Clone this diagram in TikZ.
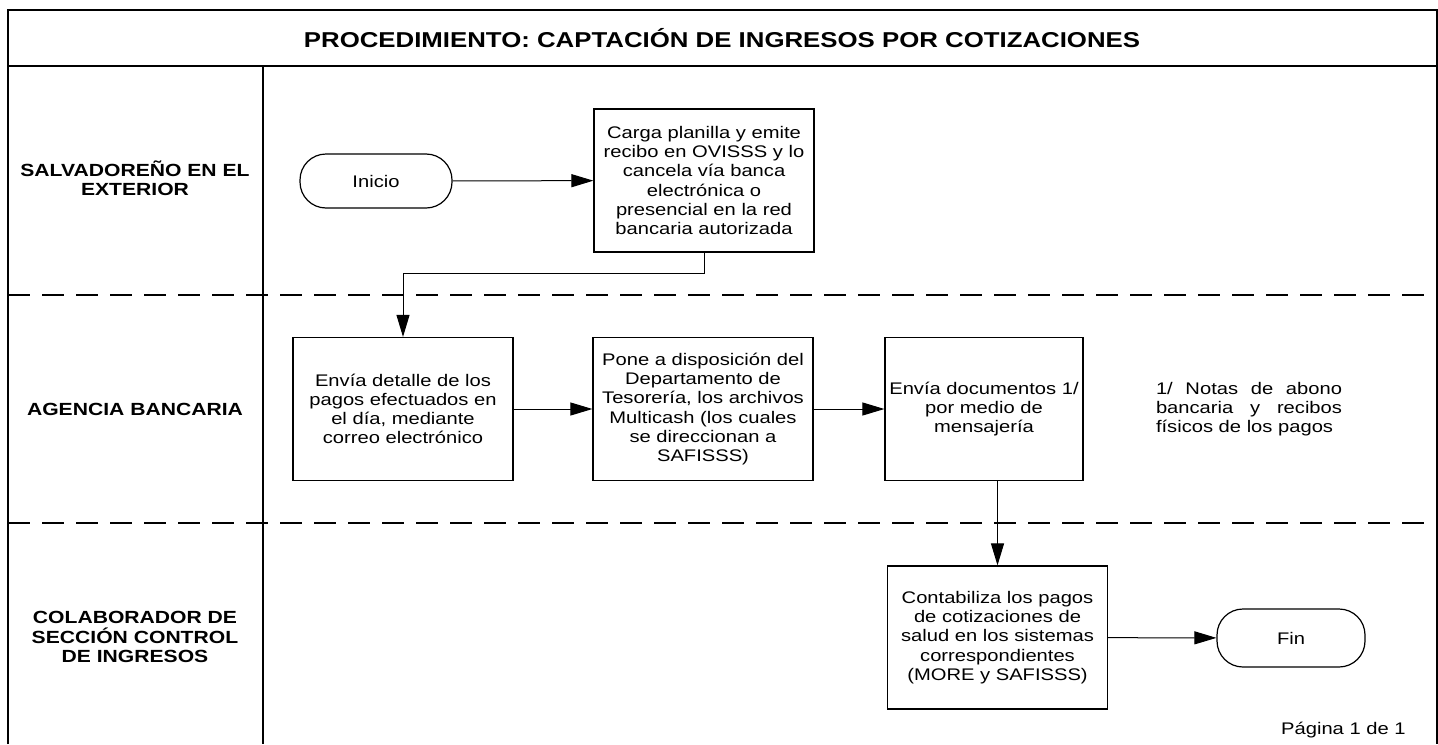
\documentclass[tikz,border=0pt]{standalone}
\usepackage{fontspec}
\setmainfont{Liberation Sans}[FakeStretch=1.2]
\usetikzlibrary{arrows.meta}
\newcommand{\boxfont}{\fontsize{8.4}{9.6}\selectfont}
\tikzset{
  proc/.style={draw, line width=0.6pt, minimum width=110pt, minimum height=71.5pt, inner sep=0pt, align=center, font=\boxfont},
  term/.style={draw, line width=0.6pt, rounded corners=13pt, minimum width=76pt, minimum height=27pt, inner sep=0pt, font=\boxfont},
  lane/.style={align=center, font=\fontsize{8.8}{9.6}\selectfont\bfseries},
  flow/.style={-{Triangle[length=11pt,width=6.5pt]}, line width=0.5pt},
  frame/.style={line width=1pt},
  lanesep/.style={line width=1pt, dash pattern=on 11pt off 6pt}
}
\begin{document}
\begin{tikzpicture}[x=0.5pt, y=-0.5pt]
\useasboundingbox (0,0) rectangle (1438,744);
\draw[frame] (8,744) |- (1437,10) -- (1437,744);
\draw[frame] (8,66) -- (1437,66);
\draw[frame] (263,66) -- (263,744);
\draw[lanesep] (8,295) -- (1437,295);
\draw[lanesep] (8,523) -- (1437,523);

\node[font=\fontsize{10.75}{12}\selectfont\bfseries] (titulo) at (722,38) {PROCEDIMIENTO: CAPTACIÓN DE INGRESOS POR COTIZACIONES};
\node[lane] (lsalv) at (135,178) {SALVADOREÑO EN EL\\EXTERIOR};
\node[lane] (lagen) at (135,409) {AGENCIA BANCARIA};
\node[lane] (lcolab) at (135,637) {COLABORADOR DE\\SECCIÓN CONTROL\\DE INGRESOS};

\node[term] (inicio) at (376,181) {Inicio};
\node[proc] (carga) at (704,180.5) {Carga planilla y emite\\recibo en OVISSS y lo\\cancela vía banca\\electrónica o\\presencial en la red\\bancaria autorizada};
\node[proc] (envia) at (403,409) {Envía detalle de los\\pagos efectuados en\\el día, mediante\\correo electrónico};
\node[proc] (pone) at (703,409) {Pone a disposición del\\Departamento de\\Tesorería, los archivos\\Multicash (los cuales\\se direccionan a\\SAFISSS)};
\node[proc, minimum width=99pt] (docs) at (984,409) {Envía documentos 1/\\por medio de\\mensajería};
\node[proc] (contab) at (997.5,637.5) {Contabiliza los pagos\\de cotizaciones de\\salud en los sistemas\\correspondientes\\(MORE y SAFISSS)};
\node[term, minimum width=74pt, minimum height=29pt] (fin) at (1291,638) {Fin};
\node[text width=93pt, align=justify, inner sep=0pt, font=\boxfont] (nota) at (1249,409) {1/ Notas de abono bancaria y recibos físicos de los pagos};
\node[anchor=east, inner sep=0pt, font=\boxfont] (pagina) at (1406,730) {Página 1 de 1};

\draw[flow] (inicio) -- (carga);
\draw[flow] (carga.south) -- ++(0,21) -| (envia.north);
\draw[flow] (envia) -- (pone);
\draw[flow] (pone) -- (docs);
\draw[flow] (docs.south -| contab.north) -- (contab.north);
\draw[flow] (contab) -- (fin);
\end{tikzpicture}
\end{document}
